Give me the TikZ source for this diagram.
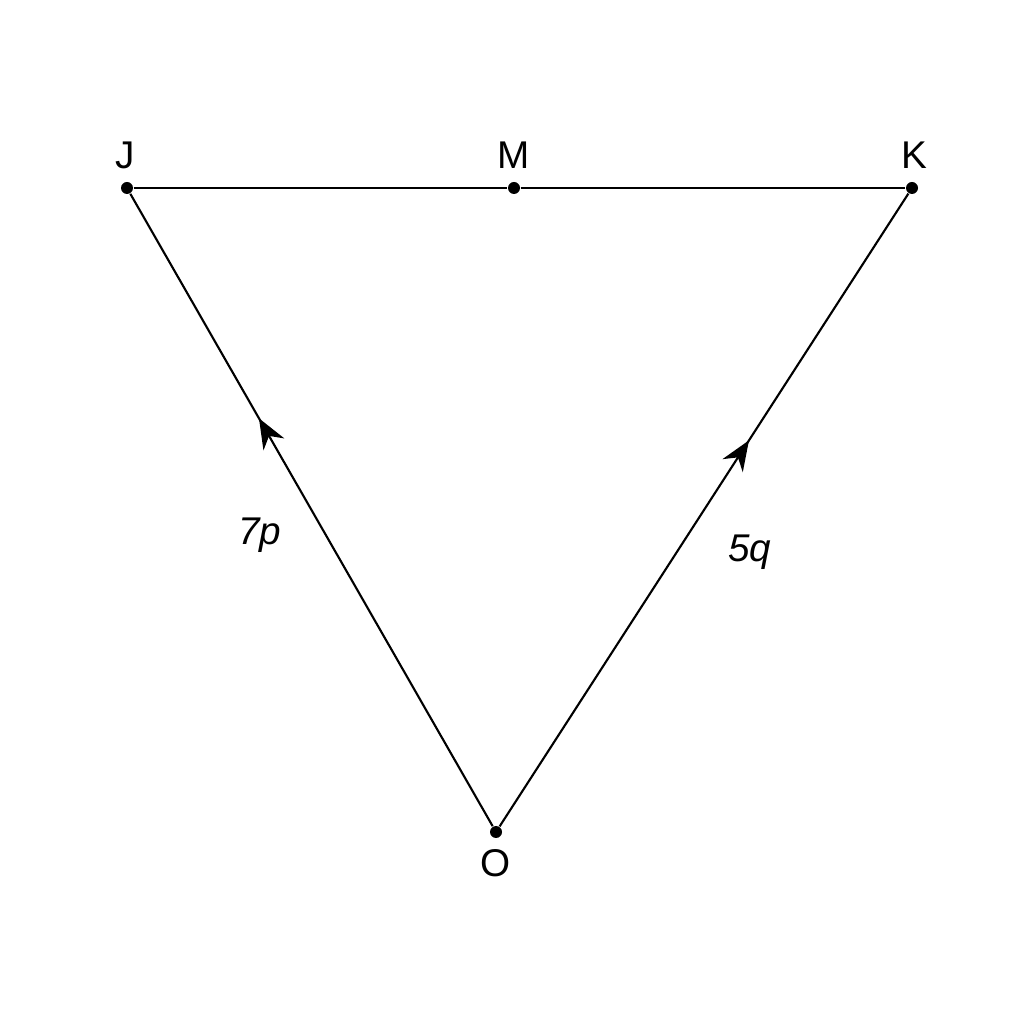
\documentclass[tikz,border=0pt]{standalone}
\usepackage{fontspec}
\setmainfont{Liberation Sans}
\usetikzlibrary{arrows.meta,decorations.markings}
\tikzset{
	pt/.style={circle, fill=black, inner sep=0pt, minimum size=0.12cm},
	vec/.style={line width=0.6pt, postaction={decorate}, decoration={markings, mark=at position #1 with {\arrow{Stealth[length=0.3cm,width=0.24cm]}}}},
	side/.style={line width=0.6pt},
	lbl/.style={font=\fontsize{11}{13}\selectfont}
}
\begin{document}
\begin{tikzpicture}
	\useasboundingbox (0,0) rectangle (10.24,10.24);
	\node[pt] (J) at (1.27,8.36) {};
	\node[pt] (M) at (5.14,8.36) {};
	\node[pt] (K) at (9.12,8.36) {};
	\node[pt] (O) at (4.96,1.92) {};
	
	% point labels
	\node[lbl] (lJ) at (1.25,8.69) {J};
	\node[lbl] (lM) at (5.14,8.69) {M};
	\node[lbl] (lK) at (9.14,8.69) {K};
	\node[lbl] (lO) at (4.96,1.61) {O};
	
	% sides
	\draw[side] (J) -- (M) -- (K);
	\draw[vec=0.645] (O) -- (J);
	\draw[vec=0.61] (O) -- (K);
	
	% vector labels
	\node[lbl, font=\fontsize{11}{13}\selectfont\itshape] (lp) at (2.60,4.89) {7p};
	\node[lbl, font=\fontsize{11}{13}\selectfont\itshape] (lq) at (7.50,4.72) {5q};
\end{tikzpicture}
\end{document}
